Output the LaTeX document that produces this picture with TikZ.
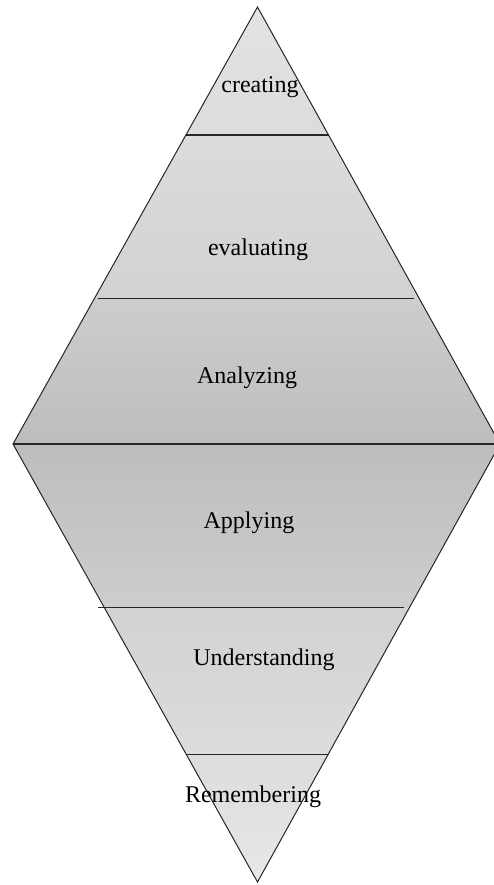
\documentclass[tikz,border=0pt]{standalone}
\usepackage{fontspec}
\setmainfont{Liberation Serif}
\usetikzlibrary{calc}
\definecolor{shadeA}{HTML}{E3E3E3}
\definecolor{shadeB}{HTML}{DCDCDC}
\definecolor{shadeC}{HTML}{D2D2D2}
\definecolor{shadeD}{HTML}{CDCDCD}
\definecolor{shadeE}{HTML}{BDBDBD}
\definecolor{shadeF}{HTML}{E7E7E7}
\tikzset{
    level/.style={font=\fontsize{24}{28}\selectfont, text=black},
    divider/.style={draw=black!85, line width=1.1pt},
    rim/.style={draw=black!85, line width=1pt, line join=miter}
}
\begin{document}
\begin{tikzpicture}[x=1pt,y=-1pt]
                \useasboundingbox (0,0) rectangle (494,885);
                \coordinate (T) at (257.5,7);
                \coordinate (L) at (13,444);
                \coordinate (R) at (500,444);
                \coordinate (B) at (257.5,882);
                % edge points
                \coordinate (L1) at ($(T)!0.293!(L)$);
                \coordinate (R1) at ($(T)!0.293!(R)$);
                \coordinate (L2) at ($(T)!0.668!(L)$);
                \coordinate (R2) at ($(T)!0.668!(R)$);
                \coordinate (L3) at ($(L)!0.374!(B)$);
                \coordinate (R3) at ($(R)!0.374!(B)$);
                \coordinate (L4) at ($(L)!0.708!(B)$);
                \coordinate (R4) at ($(R)!0.708!(B)$);
                \shade[top color=shadeA, bottom color=shadeB] (T) -- (R1) -- (L1) -- cycle;
                \shade[top color=shadeB, bottom color=shadeC] (L1) -- (R1) -- (R2) -- (L2) -- cycle;
                \shade[top color=shadeD, bottom color=shadeE] (L2) -- (R2) -- (R) -- (L) -- cycle;
                \shade[top color=shadeE, bottom color=shadeD] (L) -- (R) -- (R3) -- (L3) -- cycle;
                \shade[top color=shadeC, bottom color=shadeB] (L3) -- (R3) -- (R4) -- (L4) -- cycle;
                \shade[top color=shadeB, bottom color=shadeF] (L4) -- (R4) -- (B) -- cycle;
                \draw[divider] (L1) -- (R1);
                \draw[divider, shorten <=4pt, shorten >=5pt] (L2) -- (R2);
                \draw[divider] (L) -- (R);
                \draw[divider] ($(L3)+(-6,0)$) -- ($(R3)+(-5,0)$);
                \draw[divider] (L4) -- (R4);
                \draw[rim] (T) -- (R) -- (B) -- (L) -- cycle;
                \node[level] (creating) at (260,87) {creating};
                \node[level] (evaluating) at (258,250) {evaluating};
                \node[level] (analyzing) at (247,378) {Analyzing};
                \node[level] (applying) at (249,523) {Applying};
                \node[level] (understanding) at (264,660) {Understanding};
                \node[level] (remembering) at (253,797) {Remembering};
            \end{tikzpicture}
\end{document}
